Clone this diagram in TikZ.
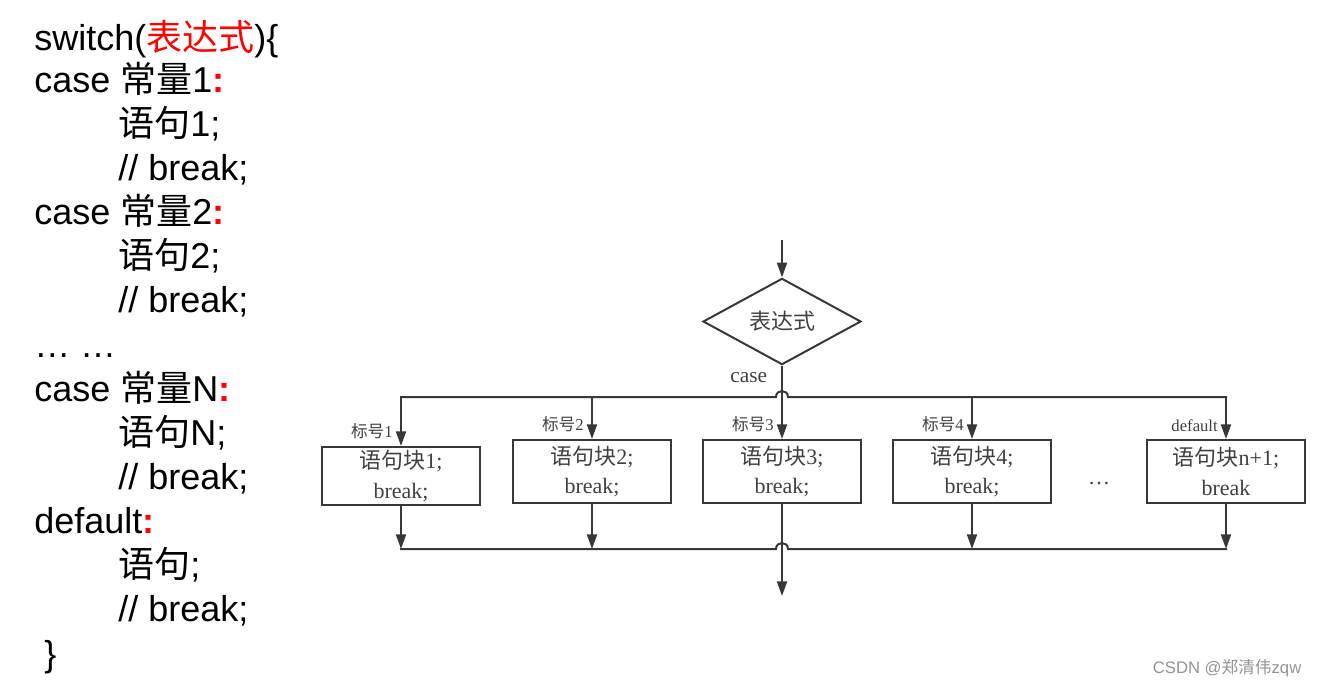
\documentclass[tikz,border=0pt]{standalone}
\usepackage{fontspec}
\setmainfont{Liberation Serif}
\setsansfont{Liberation Sans}
\newfontfamily\cjk{Noto Sans CJK SC}
\usetikzlibrary{arrows.meta,positioning,shapes.geometric}
\newcommand\zh[1]{{\cjk #1}}
\definecolor{linegray}{HTML}{383838}
\definecolor{textgray}{HTML}{404040}
\tikzset{
  code/.style     = {font=\sffamily\fontsize{27}{32}\selectfont, anchor=base west, inner sep=0pt},
  flow/.style     = {line width=1.5pt, draw=linegray},
  bus/.style      = {flow, line cap=rect},
  arr/.style      = {flow, -{Triangle[length=11pt,width=7.5pt]}},
  decision/.style = {diamond, draw=linegray, line width=1.5pt, minimum width=118.5pt,
                     minimum height=50.25pt, inner sep=0pt, text=textgray,
                     font=\fontsize{16.5}{20}\selectfont},
  block/.style    = {rectangle, draw=linegray, line width=1.5pt, minimum width=119pt,
                     minimum height=47.25pt, inner sep=0pt, align=center, text=textgray,
                     font=\fontsize{16.5}{22}\selectfont},
  tag/.style      = {inner sep=1pt, text=textgray, font=\fontsize{12.5}{14}\selectfont},
}

\begin{document}
\begin{tikzpicture}[x=0.75pt,y=-0.75pt]
  \useasboundingbox (0,0) rectangle (1322,687);
  % switch syntax
  \node[code] (l1)  at (34,50)  {switch(\textcolor{red}{\zh{表达式}})\{};
  \node[code] (l2)  at (34,92)  {case \zh{常量}1\textcolor{red}{\textbf{:}}};
  \node[code] (l3)  at (118,136) {\zh{语句}1;};
  \node[code] (l4)  at (118,180) {// break;};
  \node[code] (l5)  at (34,224) {case \zh{常量}2\textcolor{red}{\textbf{:}}};
  \node[code] (l6)  at (118,268) {\zh{语句}2;};
  \node[code] (l7)  at (118,312) {// break;};
  \node[code] (l8)  at (34,357) {\dots{} \dots};
  \node[code] (l9)  at (34,401) {case \zh{常量}N\textcolor{red}{\textbf{:}}};
  \node[code] (l10) at (118,445) {\zh{语句}N;};
  \node[code] (l11) at (118,489) {// break;};
  \node[code] (l12) at (34,533) {default\textcolor{red}{\textbf{:}}};
  \node[code] (l13) at (118,577) {\zh{语句};};
  \node[code] (l14) at (118,621) {// break;};
  \node[code] (l15) at (44,666) {\}};

  % flow chart
  \node[decision] (expr) at (782,321.5) {\zh{表达式}};
  \node[block, minimum height=43.5pt] (b1) at (401,476) {\zh{语句块}1;\\break;};
  \node[block] (b2) at (592,471.5)  {\zh{语句块}2;\\break;};
  \node[block] (b3) at (782,471.5)  {\zh{语句块}3;\\break;};
  \node[block] (b4) at (972,471.5)  {\zh{语句块}4;\\break;};
  \node[block] (b5) at (1226,471.5) {\zh{语句块}n+1;\\break};
  \node[tag, above left=4pt and 5pt of b1.north] (t1) {\zh{标号}1};
  \node[tag, above left=4pt and 5pt of b2.north] (t2) {\zh{标号}2};
  \node[tag, above left=4pt and 5pt of b3.north] (t3) {\zh{标号}3};
  \node[tag, above left=4pt and 5pt of b4.north] (t4) {\zh{标号}4};
  \node[tag, above left=4pt and 5pt of b5.north] (t5) {default};
  \node[tag, font=\fontsize{16}{18}\selectfont, below left=4pt and 10pt of expr.south] (case) {case};
  \node[text=textgray, font=\fontsize{16.5}{20}\selectfont] (dots) at (1099,484) {\dots};

  \coordinate (in)  at (782,240);
  \coordinate (out) at (782,596);
  \coordinate (bt)  at (782,397);
  \coordinate (bb)  at (782,549);

  \draw[arr] (in) -- (expr.north);
  \draw[arr] (expr.south) -- (b3.north);
  \draw[arr] (b3.south) -- (out);
  \draw[bus] (b1.north |- bt) -- ([xshift=-4.5pt]bt)
             .. controls ([xshift=-4.5pt,yshift=6pt]bt) and ([xshift=4.5pt,yshift=6pt]bt) .. ([xshift=4.5pt]bt)
             -- (b5.north |- bt);
  \draw[bus] (b1.south |- bb) -- ([xshift=-4.5pt]bb)
             .. controls ([xshift=-4.5pt,yshift=6pt]bb) and ([xshift=4.5pt,yshift=6pt]bb) .. ([xshift=4.5pt]bb)
             -- (b5.south |- bb);
  \foreach \i in {1,2,4,5} {
    \draw[arr] (b\i.north |- bt) -- (b\i.north);
    \draw[arr] (b\i.south) -- (b\i.south |- bb);
  }

  \node[font=\sffamily\fontsize{12.5}{14}\selectfont, text=gray!85, anchor=east] (mark) at (1306,668) {CSDN @\zh{郑清伟}zqw};
\end{tikzpicture}
\end{document}
